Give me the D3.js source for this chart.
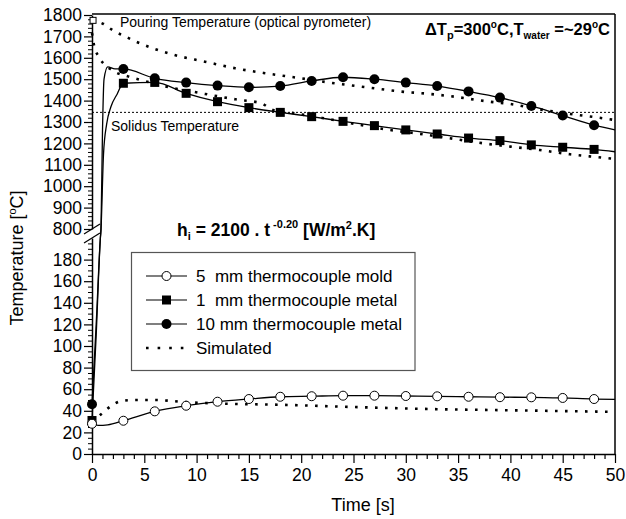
<!DOCTYPE html>
<html>
<head>
<meta charset="utf-8">
<script src="https://cdn.jsdelivr.net/npm/d3@7"></script>
<style>
  body { margin: 0; background: #fff; }
  text { font-family: Arial, "Liberation Sans", sans-serif; }
</style>
</head>
<body>
<div id="chart"></div>
<script>
// times where the thermocouple markers sit (s)
const markTimes = [0, 3, 6, 9, 12, 15, 18, 21, 24, 27, 30, 33, 36, 39, 42, 45, 48];
// measured temperatures at those times (C)
const mold5 = [28, 30.8, 39.5, 44.7, 48.4, 50.9, 53, 53.5, 54, 54, 53.7, 53.4, 53, 52.6, 52.5, 51.9, 50.9];
const metal1 = [31, 1481, 1485, 1434, 1395, 1367, 1345, 1325, 1303, 1283, 1263, 1244, 1225, 1213, 1193, 1182, 1172];
const metal10 = [46, 1548, 1504, 1484, 1470, 1462, 1468, 1492, 1509, 1500, 1484, 1468, 1443, 1414, 1375, 1330, 1285];

// extra points of the measured curves (fast rise at start, end at 50 s)
const mold5ExtraT = [0.6, 1.5, 50];
const mold5ExtraV = [26.5, 27, 50.6];
const metal1ExtraT = [0.4, 0.8, 0.86, 1.1, 1.4, 1.8, 2.4, 50];
const metal1ExtraV = [110, 200, 800, 1150, 1290, 1370, 1430, 1161];
const metal10ExtraT = [0.4, 0.8, 0.86, 1.0, 1.15, 1.5, 2.2, 50];
const metal10ExtraV = [120, 200, 800, 1250, 1500, 1558, 1548, 1263];

// simulated curves
const simHighT = [0, 1.1, 2.1, 3.2, 4.1, 7.9, 10.8, 13.7, 16.7, 19.6, 22.6, 26.6, 29.4, 32.1, 34.2, 38, 40, 42.8, 46, 48.9, 50];
const simHighV = [1775, 1758, 1725, 1699, 1678, 1613, 1582, 1551, 1527, 1507, 1485, 1460, 1443, 1432, 1421, 1395, 1384, 1359, 1336, 1317, 1309];
const simLowT = [0, 0.2, 0.7, 2, 3.5, 4.4, 6.7, 10.5, 13.7, 16.2, 17.3, 19.2, 22, 26, 28, 31, 34.2, 37, 40, 42.8, 45.7, 48.9, 50];
const simLowV = [1716, 1657, 1602, 1540, 1512, 1500, 1470, 1434, 1406, 1387, 1356, 1342, 1319, 1283, 1266, 1247, 1224, 1203, 1185, 1169, 1149, 1133, 1127];
const simMoldT = [0, 0.9, 1.9, 2.8, 4, 6, 9, 13.7, 17, 25, 33, 40, 50];
const simMoldV = [30, 37, 45, 49, 50, 50, 48, 46.3, 45.8, 43.5, 41.5, 40.5, 39];

const solidus = 1345;
const pouring = [0.1, 1775];

const legendLabels = ["5  mm thermocouple mold", "1  mm thermocouple metal", "10 mm thermocouple metal", "Simulated"];

const width = 626, height = 519;
const plotL = 92, plotR = 615, plotT = 15, plotB = 454;

const svg = d3.select("#chart").append("svg")
  .attr("width", width)
  .attr("height", height);

// scales: broken y axis, lower part 0-200, upper part 800-1800
const x = d3.scaleLinear().domain([0, 50]).range([plotL, plotR]);
const yLow = d3.scaleLinear().domain([0, 200]).range([plotB, 238]);
const yUp = d3.scaleLinear().domain([800, 1800]).range([229, plotT]);
const y = d3.scaleLinear().domain([0, 200, 800, 1800]).range([plotB, 238, 229, plotT]);

function merge(ts, vs, ets, evs) {
  const pts = ts.map((t, i) => [t, vs[i]]).concat(ets.map((t, i) => [t, evs[i]]));
  return pts.sort((a, b) => a[0] - b[0]);
}
const zip = (ts, vs) => ts.map((t, i) => [t, vs[i]]);

const line = d3.line()
  .x(d => x(d[0]))
  .y(d => y(d[1]))
  .curve(d3.curveMonotoneX);

// frame top and right
svg.append("line").attr("x1", plotL).attr("x2", plotR).attr("y1", plotT - 1).attr("y2", plotT - 1)
  .attr("stroke", "#000").attr("stroke-width", 1.5);
svg.append("line").attr("x1", plotR).attr("x2", plotR).attr("y1", plotT - 1).attr("y2", plotB)
  .attr("stroke", "#000").attr("stroke-width", 1.5);

// axes
function styleAxis(g, size) {
  g.select(".domain").attr("stroke-width", 1.5);
  g.selectAll(".tick line").attr("stroke-width", 1.2);
  g.selectAll(".tick text").attr("font-size", size).attr("font-family", "Arial, 'Liberation Sans', sans-serif").attr("fill", "#000");
}

const lowMajor = d3.range(0, 181, 20);
const lowMinor = d3.range(0, 196, 5).filter(v => v % 20 !== 0);
const upMajor = d3.range(800, 1801, 100);
const upMinor = d3.range(800, 1800, 20).filter(v => v % 100 !== 0);
const xMajor = d3.range(0, 51, 5);
const xMinor = d3.range(0, 51, 1).filter(v => v % 5 !== 0);
const fmt = d3.format("d");

svg.append("g").attr("transform", `translate(${plotL},0)`)
  .call(d3.axisLeft(yLow).tickValues(lowMinor).tickSize(4).tickFormat(""))
  .call(g => g.select(".domain").remove())
  .selectAll("line").attr("stroke-width", 1);
svg.append("g").attr("transform", `translate(${plotL},0)`)
  .call(d3.axisLeft(yLow).tickValues(lowMajor).tickFormat(fmt).tickSize(8).tickPadding(2).tickSizeOuter(0))
  .call(g => styleAxis(g, 17.5));

svg.append("g").attr("transform", `translate(${plotL},0)`)
  .call(d3.axisLeft(yUp).tickValues(upMinor).tickSize(4).tickFormat(""))
  .call(g => g.select(".domain").remove())
  .selectAll("line").attr("stroke-width", 1);
svg.append("g").attr("transform", `translate(${plotL},0)`)
  .call(d3.axisLeft(yUp).tickValues(upMajor).tickFormat(fmt).tickSize(8).tickPadding(2).tickSizeOuter(0))
  .call(g => styleAxis(g, 17.5));

svg.append("g").attr("transform", `translate(0,${plotB})`)
  .call(d3.axisBottom(x).tickValues(xMinor).tickSize(5).tickFormat(""))
  .call(g => g.select(".domain").remove())
  .selectAll("line").attr("stroke-width", 1.2);
svg.append("g").attr("transform", `translate(0,${plotB})`)
  .call(d3.axisBottom(x).tickValues(xMajor).tickFormat(fmt).tickSize(9).tickPadding(6).tickSizeOuter(0))
  .call(g => styleAxis(g, 17.5));

// axis break marks
[229, 238].forEach(yy => {
  svg.append("line")
    .attr("x1", plotL - 8).attr("y1", yy + 5)
    .attr("x2", plotL + 8).attr("y2", yy - 5)
    .attr("stroke", "#000").attr("stroke-width", 1.2);
});

// solidus line
svg.append("line")
  .attr("x1", x(0)).attr("x2", x(50))
  .attr("y1", y(solidus)).attr("y2", y(solidus))
  .attr("stroke", "#000").attr("stroke-width", 1).attr("stroke-dasharray", "2,2");

// simulated curves
[zip(simHighT, simHighV), zip(simLowT, simLowV), zip(simMoldT, simMoldV)].forEach(d => {
  svg.append("path").datum(d)
    .attr("d", line)
    .attr("fill", "none")
    .attr("stroke", "#000")
    .attr("stroke-width", 2.6)
    .attr("stroke-dasharray", "2.6,7.4");
});

// measured curves
const series = [
  { vals: mold5, line: merge(markTimes, mold5, mold5ExtraT, mold5ExtraV), shape: "open" },
  { vals: metal1, line: merge(markTimes, metal1, metal1ExtraT, metal1ExtraV), shape: "square" },
  { vals: metal10, line: merge(markTimes, metal10, metal10ExtraT, metal10ExtraV), shape: "circle" }
];

series.forEach(s => {
  svg.append("path").datum(s.line)
    .attr("d", line)
    .attr("fill", "none")
    .attr("stroke", "#000")
    .attr("stroke-width", 1.3);
});

function drawMarker(g, shape, cx, cy) {
  if (shape === "square") {
    g.append("rect").attr("x", cx - 4.5).attr("y", cy - 4.5).attr("width", 9).attr("height", 9).attr("fill", "#000");
  } else if (shape === "circle") {
    g.append("circle").attr("cx", cx).attr("cy", cy).attr("r", 5).attr("fill", "#000");
  } else {
    g.append("circle").attr("cx", cx).attr("cy", cy).attr("r", 4.5)
      .attr("fill", "#fff").attr("stroke", "#000").attr("stroke-width", 1);
  }
}

// markers: metal first, mold on top at t=0
[series[2], series[1], series[0]].forEach(s => {
  const g = svg.append("g");
  markTimes.forEach((t, i) => drawMarker(g, s.shape, x(t), y(s.vals[i])));
});

// pouring temperature mark
svg.append("rect")
  .attr("x", x(pouring[0]) - 3).attr("y", y(pouring[1]) - 3)
  .attr("width", 6).attr("height", 6)
  .attr("fill", "#fff").attr("stroke", "#000").attr("stroke-width", 1);

// legend
const lg = svg.append("g");
lg.append("rect").attr("x", 131.5).attr("y", 252.5).attr("width", 283.5).attr("height", 118)
  .attr("fill", "#fff").attr("stroke", "#555").attr("stroke-width", 1.2);
legendLabels.forEach((lab, i) => {
  const yy = 276 + i * 24;
  if (i < 3) {
    lg.append("line").attr("x1", 146).attr("x2", 187).attr("y1", yy).attr("y2", yy)
      .attr("stroke", "#000").attr("stroke-width", 1.2);
    drawMarker(lg, ["open", "square", "circle"][i], 166.5, yy);
  } else {
    lg.append("line").attr("x1", 146).attr("x2", 187).attr("y1", yy).attr("y2", yy)
      .attr("stroke", "#000").attr("stroke-width", 2.6).attr("stroke-dasharray", "2.6,9");
  }
  lg.append("text").attr("x", 196).attr("y", yy + 6)
    .attr("font-size", 17).style("white-space", "pre")
    .text(lab);
});

// annotations
svg.append("text").attr("x", 120).attr("y", 27).attr("font-size", 14)
  .text("Pouring Temperature (optical pyrometer)");
svg.append("text").attr("x", 111).attr("y", 131).attr("font-size", 14)
  .text("Solidus Temperature");

const dt = svg.append("text").attr("x", 425).attr("y", 35)
  .attr("font-size", 16.5).attr("font-weight", "bold");
dt.append("tspan").text("\u0394T");
dt.append("tspan").attr("font-size", 11).attr("dy", 4).text("p");
dt.append("tspan").attr("dy", -4).text("=300");
dt.append("tspan").attr("font-size", 10).attr("dy", -7).text("o");
dt.append("tspan").attr("dy", 7).text("C,T");
dt.append("tspan").attr("font-size", 10).attr("dy", 4).text("water");
dt.append("tspan").attr("dy", -4).text(" =~29");
dt.append("tspan").attr("font-size", 10).attr("dy", -7).text("o");
dt.append("tspan").attr("dy", 7).text("C");

const hi = svg.append("text").attr("x", 177).attr("y", 236)
  .attr("font-size", 17.5).attr("font-weight", "bold");
hi.append("tspan").text("h");
hi.append("tspan").attr("font-size", 11).attr("dy", 4).text("i");
hi.append("tspan").attr("dy", -4).text(" = 2100 . t");
hi.append("tspan").attr("font-size", 11).attr("dy", -8).text(" -0.20");
hi.append("tspan").attr("dy", 8).text(" [W/m");
hi.append("tspan").attr("font-size", 11).attr("dy", -7).text("2");
hi.append("tspan").attr("dy", 7).text(".K]");

// axis titles
svg.append("text").attr("x", 363).attr("y", 511).attr("text-anchor", "middle")
  .attr("font-size", 18).text("Time [s]");
const yt = svg.append("text").attr("transform", "translate(23,258) rotate(-90)")
  .attr("text-anchor", "middle").attr("font-size", 18);
yt.append("tspan").text("Temperature [");
yt.append("tspan").attr("font-size", 11).attr("dy", -7).text("o");
yt.append("tspan").attr("dy", 7).text("C]");
</script>
</body>
</html>
